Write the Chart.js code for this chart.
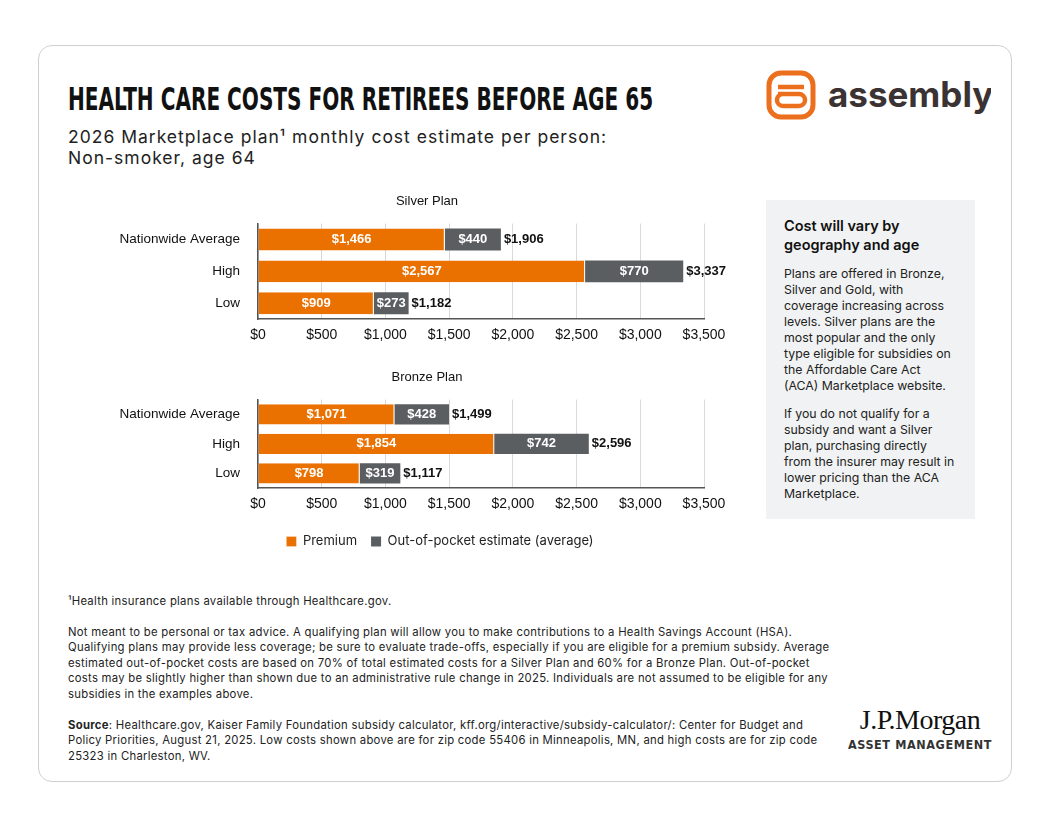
<!DOCTYPE html>
<html><head><meta charset="utf-8">
<script src="https://cdn.jsdelivr.net/npm/chart.js@4"></script>
<style>
body{margin:0;width:1056px;height:816px;background:#fff;font-family:Inter,"Open Sans",sans-serif;color:#111;position:relative;overflow:hidden}
.card{position:absolute;left:38px;top:45px;width:972px;height:735px;border:1px solid #cfcfcf;border-radius:14px}
.abs{position:absolute}
h1{position:absolute;left:68px;top:80px;margin:0;font-family:"DejaVu Sans Condensed",sans-serif;font-weight:bold;font-size:31px;white-space:nowrap;transform:scale(0.72,1.03);transform-origin:left top}
.sub{left:68px;top:126px;font-size:17.5px;line-height:21px;color:#222;letter-spacing:1px}
.side{left:766px;top:200px;width:209px;height:319px;background:#f1f2f3;box-sizing:border-box;padding:16px 18px;font-size:12.3px;line-height:16px;color:#222}
.side b{display:block;font-size:14.5px;line-height:19px;font-weight:600;margin-bottom:12px;color:#111}
.side p{margin:0 0 12px}
.notes{left:68px;top:594px;width:770px;font-size:11.3px;line-height:15.6px;color:#222;letter-spacing:0.28px}
.notes p{margin:0 0 15px}
</style></head><body>
<div class="card"></div>
<h1>HEALTH CARE COSTS FOR RETIREES BEFORE AGE 65</h1>
<div class="abs sub">2026 Marketplace plan¹ monthly cost estimate per person:<br>Non-smoker, age 64</div>
<svg class="abs" style="left:766px;top:70px" width="225" height="50" viewBox="0 0 225 50">
<rect x="3" y="3" width="44" height="44" rx="12" fill="none" stroke="#ec6f1e" stroke-width="5"/>
<path d="M12 17 H38 M12 24 H33 a6 6 0 0 1 0 12 H17 a6 6 0 0 1 0 -12" fill="none" stroke="#ec6f1e" stroke-width="4.5"/>
<text x="62" y="37" font-family="Inter,'Open Sans',sans-serif" font-weight="700" font-size="35" fill="#3b3333">assembly</text>
</svg>
<div class="abs side"><b>Cost will vary by geography and age</b>
<p>Plans are offered in Bronze, Silver and Gold, with coverage increasing across levels. Silver plans are the most popular and the only type eligible for subsidies on the Affordable Care Act (ACA) Marketplace website.</p>
<p>If you do not qualify for a subsidy and want a Silver plan, purchasing directly from the insurer may result in lower pricing than the ACA Marketplace.</p></div>
<div class="abs" style="left:100px;top:190px;width:680px;height:162px"><canvas id="silver"></canvas></div>
<div class="abs" style="left:100px;top:366px;width:680px;height:192px"><canvas id="bronze"></canvas></div>
<div class="abs notes">
<p>¹Health insurance plans available through Healthcare.gov.</p>
<p>Not meant to be personal or tax advice. A qualifying plan will allow you to make contributions to a Health Savings Account (HSA). Qualifying plans may provide less coverage; be sure to evaluate trade-offs, especially if you are eligible for a premium subsidy. Average estimated out-of-pocket costs are based on 70% of total estimated costs for a Silver Plan and 60% for a Bronze Plan. Out-of-pocket costs may be slightly higher than shown due to an administrative rule change in 2025. Individuals are not assumed to be eligible for any subsidies in the examples above.</p>
<p><b>Source</b>: Healthcare.gov, Kaiser Family Foundation subsidy calculator, kff.org/interactive/subsidy-calculator/: Center for Budget and Policy Priorities, August 21, 2025. Low costs shown above are for zip code 55406 in Minneapolis, MN, and high costs are for zip code 25323 in Charleston, WV.</p>
</div>
<div class="abs" style="left:840px;top:704px;width:160px;text-align:center;white-space:nowrap">
<div style="font-family:'Liberation Serif','DejaVu Serif',serif;font-size:28px;letter-spacing:-0.5px">J.P.Morgan</div>
<div style="font-family:'DejaVu Sans Condensed',sans-serif;font-size:12.5px;font-weight:bold;letter-spacing:0.6px;color:#333;margin-top:1px">ASSET MANAGEMENT</div>
</div>
<script>
const categories = ['Nationwide Average', 'High', 'Low'];
const silverPremium = [1466, 2567, 909];
const silverOOP = [440, 770, 273];
const bronzePremium = [1071, 1854, 798];
const bronzeOOP = [428, 742, 319];
const tickValues = [0, 500, 1000, 1500, 2000, 2500, 3000, 3500];

const ORANGE = '#ea7000', GREY = '#5b5e61';
const FONT = "'Liberation Sans',Arial,sans-serif";
const money = v => '$' + v.toLocaleString('en-US');

const labelPlugin = {
  id: 'barLabels',
  afterDatasetsDraw(chart) {
    const ctx = chart.ctx;
    ctx.save();
    ctx.font = 'bold 13px ' + FONT;
    ctx.textBaseline = 'middle';
    chart.data.datasets.forEach((ds, di) => {
      chart.getDatasetMeta(di).data.forEach((bar, i) => {
        ctx.fillStyle = '#fff';
        ctx.textAlign = 'center';
        ctx.fillText(money(ds.data[i]), (bar.x + bar.base) / 2, bar.y);
        if (di === 1) {
          const total = chart.data.datasets[0].data[i] + ds.data[i];
          ctx.fillStyle = '#111';
          ctx.textAlign = 'left';
          ctx.fillText(money(total), bar.x + 3, bar.y);
        }
      });
    });
    ctx.restore();
  }
};

// nudge legend and title so they sit centred over the plot, as in the original
const boxShift = {
  id: 'boxShift',
  afterUpdate(chart) { chart.$shifted = false; },
  beforeDraw(chart) {
    if (chart.$shifted) return;
    const lg = chart.legend, tb = chart.titleBlock;
    if (lg) { lg.left += 38; lg.right += 38; }
    if (tb) { tb.left += 25; tb.right += 25; }
    chart.$shifted = true;
  }
};

function makeChart(id, title, prem, oop, showLegend) {
  new Chart(document.getElementById(id), {
    type: 'bar',
    data: {
      labels: categories,
      datasets: [
        { label: 'Premium', data: prem, backgroundColor: ORANGE, borderColor: '#fff', borderWidth: {right: 1}, borderSkipped: false },
        { label: 'Out-of-pocket estimate (average)', data: oop, backgroundColor: GREY }
      ]
    },
    options: {
      indexAxis: 'y',
      responsive: true, maintainAspectRatio: false, animation: false,
      layout: { padding: { right: 76, top: 0 } },
      plugins: {
        title: { display: true, text: title, color: '#111', font: { family: FONT, size: 13, weight: 'normal' }, padding: { top: 4, bottom: 14 } },
        legend: {
          display: showLegend, position: 'bottom', align: 'center',
          labels: { boxWidth: 10, boxHeight: 10, color: '#222', padding: 14, font: { family: "Inter,'Open Sans',sans-serif", size: 13 } }
        },
        tooltip: { enabled: false }
      },
      datasets: { bar: { barPercentage: 0.86, categoryPercentage: 0.8 } },
      scales: {
        x: {
          stacked: true, min: 0, max: 3500,
          afterBuildTicks: ax => { ax.ticks = tickValues.map(v => ({ value: v })); },
          ticks: { callback: v => money(v), color: '#111', font: { family: FONT, size: 14 }, padding: 8 },
          grid: { color: '#d9d9d9', drawTicks: false },
          border: { color: '#555', width: 1.5 }
        },
        y: {
          stacked: true,
          afterFit: ax => { ax.width = 158; },
          ticks: { color: '#111', font: { family: FONT, size: 13.5 }, padding: 10 },
          grid: { display: false },
          border: { color: '#555', width: 1.5 }
        }
      }
    },
    plugins: [labelPlugin, boxShift]
  });
}
makeChart('silver', 'Silver Plan', silverPremium, silverOOP, false);
makeChart('bronze', 'Bronze Plan', bronzePremium, bronzeOOP, true);
</script>
</body></html>
